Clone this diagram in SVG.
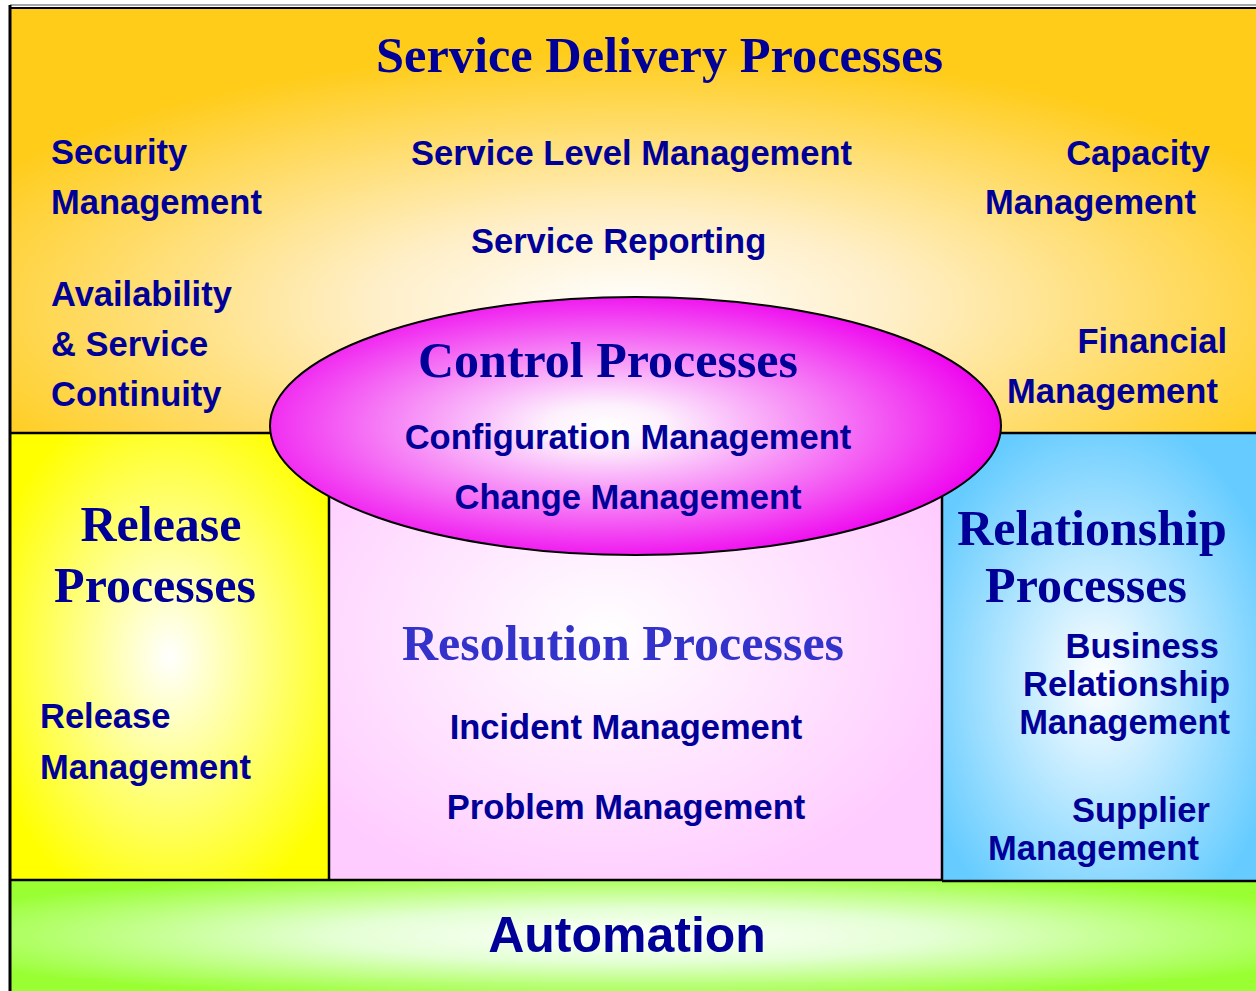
<svg xmlns="http://www.w3.org/2000/svg" width="1256" height="991" viewBox="0 0 1256 991">
<style>
.ttl{font-family:"Liberation Serif","Times New Roman",serif;font-weight:bold;font-size:50px;fill:#000099}
.lbl{font-family:"Liberation Sans",Arial,sans-serif;font-weight:bold;font-size:34.5px;fill:#000099}
.edge{stroke:#000;stroke-width:2.5;fill:none}
</style>
<defs>
<radialGradient id="gTop" cx="0.5" cy="0.7" r="0.6">
<stop offset="0" stop-color="#FFFFFF"/>
<stop offset="0.35" stop-color="#FFEFC8"/>
<stop offset="1" stop-color="#FFCC1A"/>
</radialGradient>
<radialGradient id="gRel" cx="0.5" cy="0.5" r="0.6">
<stop offset="0" stop-color="#FFFFFF"/>
<stop offset="1" stop-color="#FFFF00"/>
</radialGradient>
<radialGradient id="gRes" cx="0.45" cy="0.45" r="0.6">
<stop offset="0" stop-color="#FFFFFF"/>
<stop offset="1" stop-color="#FFCCFF"/>
</radialGradient>
<radialGradient id="gRsh" cx="0.5" cy="0.55" r="0.6">
<stop offset="0" stop-color="#FFFFFF"/>
<stop offset="1" stop-color="#66CCFF"/>
</radialGradient>
<radialGradient id="gAut" cx="0.5" cy="0.5" r="0.6">
<stop offset="0" stop-color="#FFFFFF"/>
<stop offset="0.4" stop-color="#E4FFD4"/>
<stop offset="1" stop-color="#99FF33"/>
</radialGradient>
<radialGradient id="gCtl" cx="0.46" cy="0.5" r="0.55">
<stop offset="0" stop-color="#FFFFFF"/>
<stop offset="0.15" stop-color="#FDF0FD"/>
<stop offset="1" stop-color="#EE00EE"/>
</radialGradient>
</defs>
<rect width="1256" height="991" fill="#FFFFFF"/>

<g id="service-delivery">
<rect x="10" y="8" width="1246" height="425" fill="url(#gTop)"/>
<text class="ttl" x="376" y="72" style="font-size:50.4px">Service Delivery Processes</text>
<text class="lbl" x="51" y="164">Security</text>
<text class="lbl" x="51" y="214">Management</text>
<text class="lbl" x="411" y="165">Service Level Management</text>
<text class="lbl" x="471" y="253">Service Reporting</text>
<text class="lbl" x="1210" y="165" text-anchor="end">Capacity</text>
<text class="lbl" x="985" y="214">Management</text>
<text class="lbl" x="51" y="306">Availability</text>
<text class="lbl" x="51" y="356">&amp; Service</text>
<text class="lbl" x="51" y="406">Continuity</text>
<text class="lbl" x="1227" y="353" text-anchor="end">Financial</text>
<text class="lbl" x="1007" y="403">Management</text>
</g>

<g id="release">
<rect x="10" y="433" width="319" height="447" fill="url(#gRel)"/>
<text class="ttl" x="161" y="541" text-anchor="middle">Release</text>
<text class="ttl" x="155" y="602" text-anchor="middle">Processes</text>
<text class="lbl" x="40" y="728">Release</text>
<text class="lbl" x="40" y="779">Management</text>
</g>

<g id="resolution">
<rect x="329" y="433" width="613" height="447" fill="url(#gRes)"/>
<text class="ttl" x="623" y="660" text-anchor="middle" style="fill:#3333CC">Resolution Processes</text>
<text class="lbl" x="626" y="739" text-anchor="middle">Incident Management</text>
<text class="lbl" x="626" y="819" text-anchor="middle">Problem Management</text>
</g>

<g id="relationship">
<rect x="942" y="433" width="314" height="448" fill="url(#gRsh)"/>
<text class="ttl" x="1092" y="545" text-anchor="middle">Relationship</text>
<text class="ttl" x="1086" y="602" text-anchor="middle">Processes</text>
<text class="lbl" x="1219" y="658" text-anchor="end">Business</text>
<text class="lbl" x="1230" y="696" text-anchor="end">Relationship</text>
<text class="lbl" x="1230" y="734" text-anchor="end">Management</text>
<text class="lbl" x="1210" y="822" text-anchor="end">Supplier</text>
<text class="lbl" x="988" y="860">Management</text>
</g>

<g id="automation">
<rect x="10" y="880" width="1246" height="111" fill="url(#gAut)"/>
<text class="lbl" x="627" y="952" text-anchor="middle" style="font-size:50px">Automation</text>
</g>

<g id="connectors">
<line class="edge" x1="10" y1="433" x2="1256" y2="433"/>
<line class="edge" x1="329" y1="433" x2="329" y2="880"/>
<line class="edge" x1="942" y1="433" x2="942" y2="881"/>
<line class="edge" x1="10" y1="880" x2="942" y2="880"/>
<line class="edge" x1="942" y1="881" x2="1256" y2="881"/>
<line x1="10" y1="5" x2="1256" y2="5" stroke="#888" stroke-width="1.5"/>
<line x1="10" y1="8" x2="1256" y2="8" stroke="#000" stroke-width="2"/>
<line x1="10" y1="5" x2="10" y2="991" stroke="#000" stroke-width="3"/>
</g>

<g id="control">
<ellipse cx="635.5" cy="426" rx="365.5" ry="129" fill="url(#gCtl)" stroke="#000" stroke-width="2"/>
<text class="ttl" x="608" y="377" text-anchor="middle">Control Processes</text>
<text class="lbl" x="628" y="449" text-anchor="middle">Configuration Management</text>
<text class="lbl" x="628" y="509" text-anchor="middle">Change Management</text>
</g>
</svg>
